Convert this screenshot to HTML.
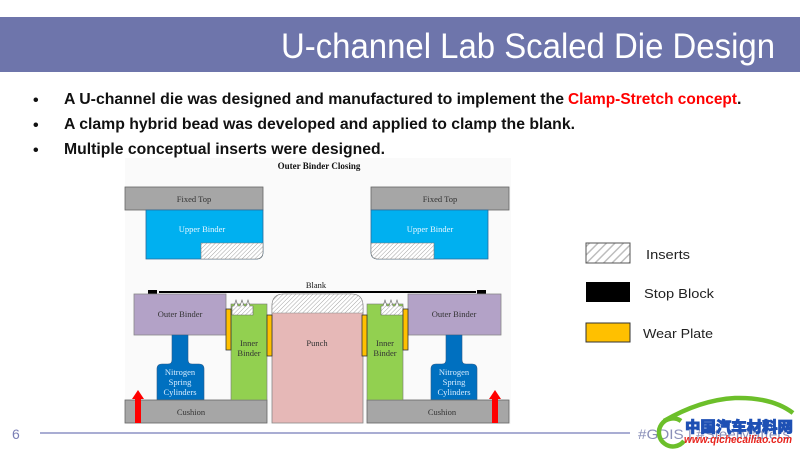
<!DOCTYPE html>
<html><head><meta charset="utf-8"><style>
html,body{margin:0;padding:0;background:#fff;}
svg{display:block;}
</style></head><body>
<svg width="800" height="450" viewBox="0 0 800 450" xmlns="http://www.w3.org/2000/svg">
<defs>
<pattern id="h" width="3" height="3" patternUnits="userSpaceOnUse" patternTransform="rotate(45)">
<rect width="3" height="3" fill="#fff"/><line x1="0" y1="0" x2="0" y2="3" stroke="#9a9a9a" stroke-width="0.9"/>
</pattern>
<pattern id="hl" width="6" height="6" patternUnits="userSpaceOnUse" patternTransform="rotate(45)">
<rect width="6" height="6" fill="#fff"/><line x1="0" y1="0" x2="0" y2="6" stroke="#bdbdbd" stroke-width="3"/>
</pattern>
</defs>
<rect width="800" height="450" fill="#fff"/>
<!-- title bar -->
<rect x="0" y="17" width="800" height="55" fill="#6e75ab"/>
<text x="281" y="58" font-family="Liberation Sans, sans-serif" font-size="35" fill="#fff" textLength="494" lengthAdjust="spacingAndGlyphs">U-channel Lab Scaled Die Design</text>
<!-- bullets -->
<g font-family="Liberation Sans, sans-serif" font-size="16" font-weight="bold" fill="#111">
<text x="33" y="105" font-size="16">•</text>
<text x="64" y="104" textLength="500" lengthAdjust="spacingAndGlyphs">A U-channel die was designed and manufactured to implement the</text>
<text x="568" y="104" fill="#f00" textLength="169" lengthAdjust="spacingAndGlyphs">Clamp-Stretch concept</text>
<text x="737" y="104">.</text>
<text x="33" y="130" font-size="16">•</text>
<text x="64" y="129" textLength="511" lengthAdjust="spacingAndGlyphs">A clamp hybrid bead was developed and applied to clamp the blank.</text>
<text x="33" y="155" font-size="16">•</text>
<text x="64" y="154" textLength="321" lengthAdjust="spacingAndGlyphs">Multiple conceptual inserts were designed.</text>
</g>
<!-- diagram background -->
<rect x="125" y="158" width="386" height="266" fill="#fafafa"/>
<g font-family="Liberation Serif, serif" font-size="8.5" text-anchor="middle" fill="#333">
<text x="319" y="169" font-weight="bold" font-size="9" fill="#111">Outer Binder Closing</text>
<!-- fixed tops -->
<rect x="125" y="187" width="138" height="23" fill="#a6a6a6" stroke="#666" stroke-width="0.8"/>
<text x="194" y="202">Fixed Top</text>
<rect x="371" y="187" width="138" height="23" fill="#a6a6a6" stroke="#666" stroke-width="0.8"/>
<text x="440" y="202">Fixed Top</text>
<!-- upper binders -->
<path d="M146 210 H263 V252 Q263 259 256 259 H146 Z" fill="#00b0f0" stroke="#2a6a9a" stroke-width="0.8"/>
<path d="M201 243 H263 V252 Q263 259 256 259 H201 Z" fill="url(#h)" stroke="#777" stroke-width="0.6"/>
<text x="202" y="232" fill="#e6f6ff">Upper Binder</text>
<path d="M371 210 H488 V259 H378 Q371 259 371 252 Z" fill="#00b0f0" stroke="#2a6a9a" stroke-width="0.8"/>
<path d="M371 243 H434 V259 H378 Q371 259 371 252 Z" fill="url(#h)" stroke="#777" stroke-width="0.6"/>
<text x="430" y="232" fill="#e6f6ff">Upper Binder</text>
<!-- blank -->
<text x="316" y="288" fill="#111">Blank</text>
<line x1="159" y1="292" x2="476" y2="292" stroke="#000" stroke-width="2"/>
<rect x="148" y="290" width="9" height="4" fill="#000"/>
<rect x="477" y="290" width="9" height="4" fill="#000"/>
<!-- outer binders -->
<rect x="134" y="294" width="92" height="41" fill="#b3a2c7" stroke="#888" stroke-width="0.8"/>
<text x="180" y="317">Outer Binder</text>
<rect x="408" y="294" width="93" height="41" fill="#b3a2c7" stroke="#888" stroke-width="0.8"/>
<text x="454" y="317">Outer Binder</text>
<!-- nitrogen -->
<path d="M172 335 H188 V360 Q188 364 192 364 H199 Q204 364 204 369 V400 H157 V369 Q157 364 162 364 H168 Q172 364 172 360 Z" fill="#0070c0" stroke="#2a5a8a" stroke-width="0.6"/>
<g fill="#d6ecff"><text x="180" y="375">Nitrogen</text><text x="180" y="385">Spring</text><text x="180" y="395">Cylinders</text></g>
<path d="M446 335 H462 V360 Q462 364 466 364 H472 Q477 364 477 369 V400 H431 V369 Q431 364 436 364 H442 Q446 364 446 360 Z" fill="#0070c0" stroke="#2a5a8a" stroke-width="0.6"/>
<g fill="#d6ecff"><text x="454" y="375">Nitrogen</text><text x="454" y="385">Spring</text><text x="454" y="395">Cylinders</text></g>
<!-- cushions -->
<rect x="125" y="400" width="142" height="23" fill="#a6a6a6" stroke="#666" stroke-width="0.8"/>
<text x="191" y="415">Cushion</text>
<rect x="367" y="400" width="142" height="23" fill="#a6a6a6" stroke="#666" stroke-width="0.8"/>
<text x="442" y="415">Cushion</text>
<!-- red arrows -->
<path d="M135 423 V399 H132 L138 390 L144 399 H141 V423 Z" fill="#f00"/>
<path d="M492 423 V399 H489 L495 390 L501 399 H498 V423 Z" fill="#f00"/>
<!-- inner binders -->
<rect x="231" y="304" width="36" height="96" fill="#92d050" stroke="#777" stroke-width="0.6"/>
<path d="M232 315 V306 H234 L236 300 L238 306 H240 L242 300 L244 306 H246 L248 300 L250 306 H253 V315 Z" fill="url(#h)" stroke="#666" stroke-width="0.6"/>
<text x="249" y="346">Inner</text><text x="249" y="356">Binder</text>
<rect x="367" y="304" width="36" height="96" fill="#92d050" stroke="#777" stroke-width="0.6"/>
<path d="M381 315 V306 H383 L385 300 L387 306 H389 L391 300 L393 306 H395 L397 300 L399 306 H403 V315 Z" fill="url(#h)" stroke="#666" stroke-width="0.6"/>
<text x="385" y="346">Inner</text><text x="385" y="356">Binder</text>
<!-- punch -->
<path d="M272 423 V306 Q272 294 284 294 H351 Q363 294 363 306 V423 Z" fill="#e6b8b7" stroke="#888" stroke-width="0.8"/>
<path d="M272 313 V306 Q272 294 284 294 H351 Q363 294 363 306 V313 Z" fill="url(#h)" stroke="#888" stroke-width="0.6"/>
<text x="317" y="346">Punch</text>
<!-- wear plates -->
<g fill="#ffc000" stroke="#333" stroke-width="0.8">
<rect x="226" y="309" width="5" height="41"/>
<rect x="267" y="315" width="5" height="41"/>
<rect x="362" y="315" width="5" height="41"/>
<rect x="403" y="309" width="5" height="41"/>
</g>
</g>
<!-- legend -->
<rect x="586" y="243" width="44" height="20" fill="url(#hl)" stroke="#555" stroke-width="1"/>
<rect x="586" y="282" width="44" height="20" fill="#000"/>
<rect x="586" y="323" width="44" height="19" fill="#ffc000" stroke="#333" stroke-width="1"/>
<g font-family="Liberation Sans, sans-serif" font-size="13" fill="#222">
<text x="646" y="259" textLength="44" lengthAdjust="spacingAndGlyphs">Inserts</text>
<text x="644" y="298" textLength="70" lengthAdjust="spacingAndGlyphs">Stop Block</text>
<text x="643" y="338" textLength="70" lengthAdjust="spacingAndGlyphs">Wear Plate</text>
</g>
<!-- footer -->
<text x="12" y="439" font-family="Liberation Sans, sans-serif" font-size="14" fill="#7a7fb5">6</text>
<line x1="40" y1="433" x2="630" y2="433" stroke="#a9add3" stroke-width="2"/>
<text x="638" y="439" font-family="Liberation Sans, sans-serif" font-size="14" fill="#8a8fb8" textLength="152" lengthAdjust="spacingAndGlyphs">#GDIS | #SteelMatters</text>
<!-- watermark -->
<path d="M681 421 A14 14 0 1 0 684 441" fill="none" stroke="#6cbf2a" stroke-width="4.5"/>
<path d="M664 421 Q700 400 735 398 Q772 397 793 413" fill="none" stroke="#6cbf2a" stroke-width="4.5"/>
<text x="685" y="432" font-family="'Noto Sans CJK SC', sans-serif" font-size="15" font-weight="900" fill="#1e50b4" stroke="#1e50b4" stroke-width="0.8" textLength="108" lengthAdjust="spacingAndGlyphs">中国汽车材料网</text>
<text x="684" y="443" font-family="Liberation Sans, sans-serif" font-size="11" font-weight="bold" font-style="italic" fill="#e8251e" textLength="108" lengthAdjust="spacingAndGlyphs">www.qichecailiao.com</text>
</svg>
</body></html>
